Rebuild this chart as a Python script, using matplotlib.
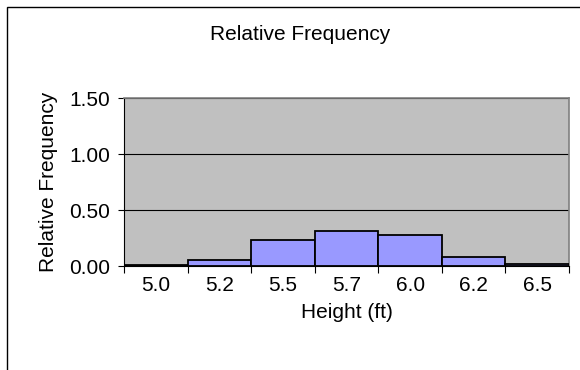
import matplotlib.pyplot as plt
from matplotlib.patches import Rectangle

plt.rcParams['font.family'] = ['Liberation Sans', 'DejaVu Sans']

heights = ['5.0', '5.2', '5.5', '5.7', '6.0', '6.2', '6.5']
rel_freq = [0.01, 0.05, 0.23, 0.31, 0.28, 0.08, 0.02]

fig = plt.figure(figsize=(5.8, 3.7), dpi=100)
ax = fig.add_axes([124 / 580, 1 - 266 / 370, (569 - 124) / 580, (266 - 98) / 370])

x = range(len(heights))
ax.bar(x, rel_freq, width=1.0, color='#9999FF', edgecolor='black', linewidth=1.3, zorder=3)

ax.set_facecolor('#C0C0C0')
ax.set_xlim(-0.5, len(heights) - 0.5)
ax.set_ylim(0, 1.5)
ax.set_yticks([0, 0.5, 1.0, 1.5])
ax.set_yticklabels(['0.00', '0.50', '1.00', '1.50'], fontsize=15)
ax.yaxis.grid(True, color='black', linewidth=0.8, zorder=1)

# category ticks between bars, labels centered on bars
ax.set_xticks([i - 0.5 for i in range(len(heights) + 1)])
ax.set_xticklabels([])
ax.set_xticks(list(x), minor=True)
ax.set_xticklabels(heights, minor=True, fontsize=15)
ax.tick_params(axis='x', which='minor', length=0, pad=7)
ax.tick_params(axis='x', which='major', length=5, width=0.8)
ax.tick_params(axis='y', length=4, width=0.8, pad=6)

for s in ['top', 'right']:
    ax.spines[s].set_color('#808080')
    ax.spines[s].set_linewidth(1.2)
for s in ['left', 'bottom']:
    ax.spines[s].set_color('black')
    ax.spines[s].set_linewidth(0.8)

ax.set_xlabel('Height (ft)', fontsize=15, labelpad=6)
ax.set_ylabel('Relative Frequency', fontsize=15, labelpad=8)

fig.text(300 / 580, 1 - 34 / 370, 'Relative Frequency', ha='center', va='center', fontsize=15)

fig.patches.append(Rectangle((7 / 580, -0.2), 1.2, (1 - 7 / 370) + 0.2,
                             transform=fig.transFigure, fill=False,
                             edgecolor='black', linewidth=1.0))

fig.savefig('out.png', dpi=100)
